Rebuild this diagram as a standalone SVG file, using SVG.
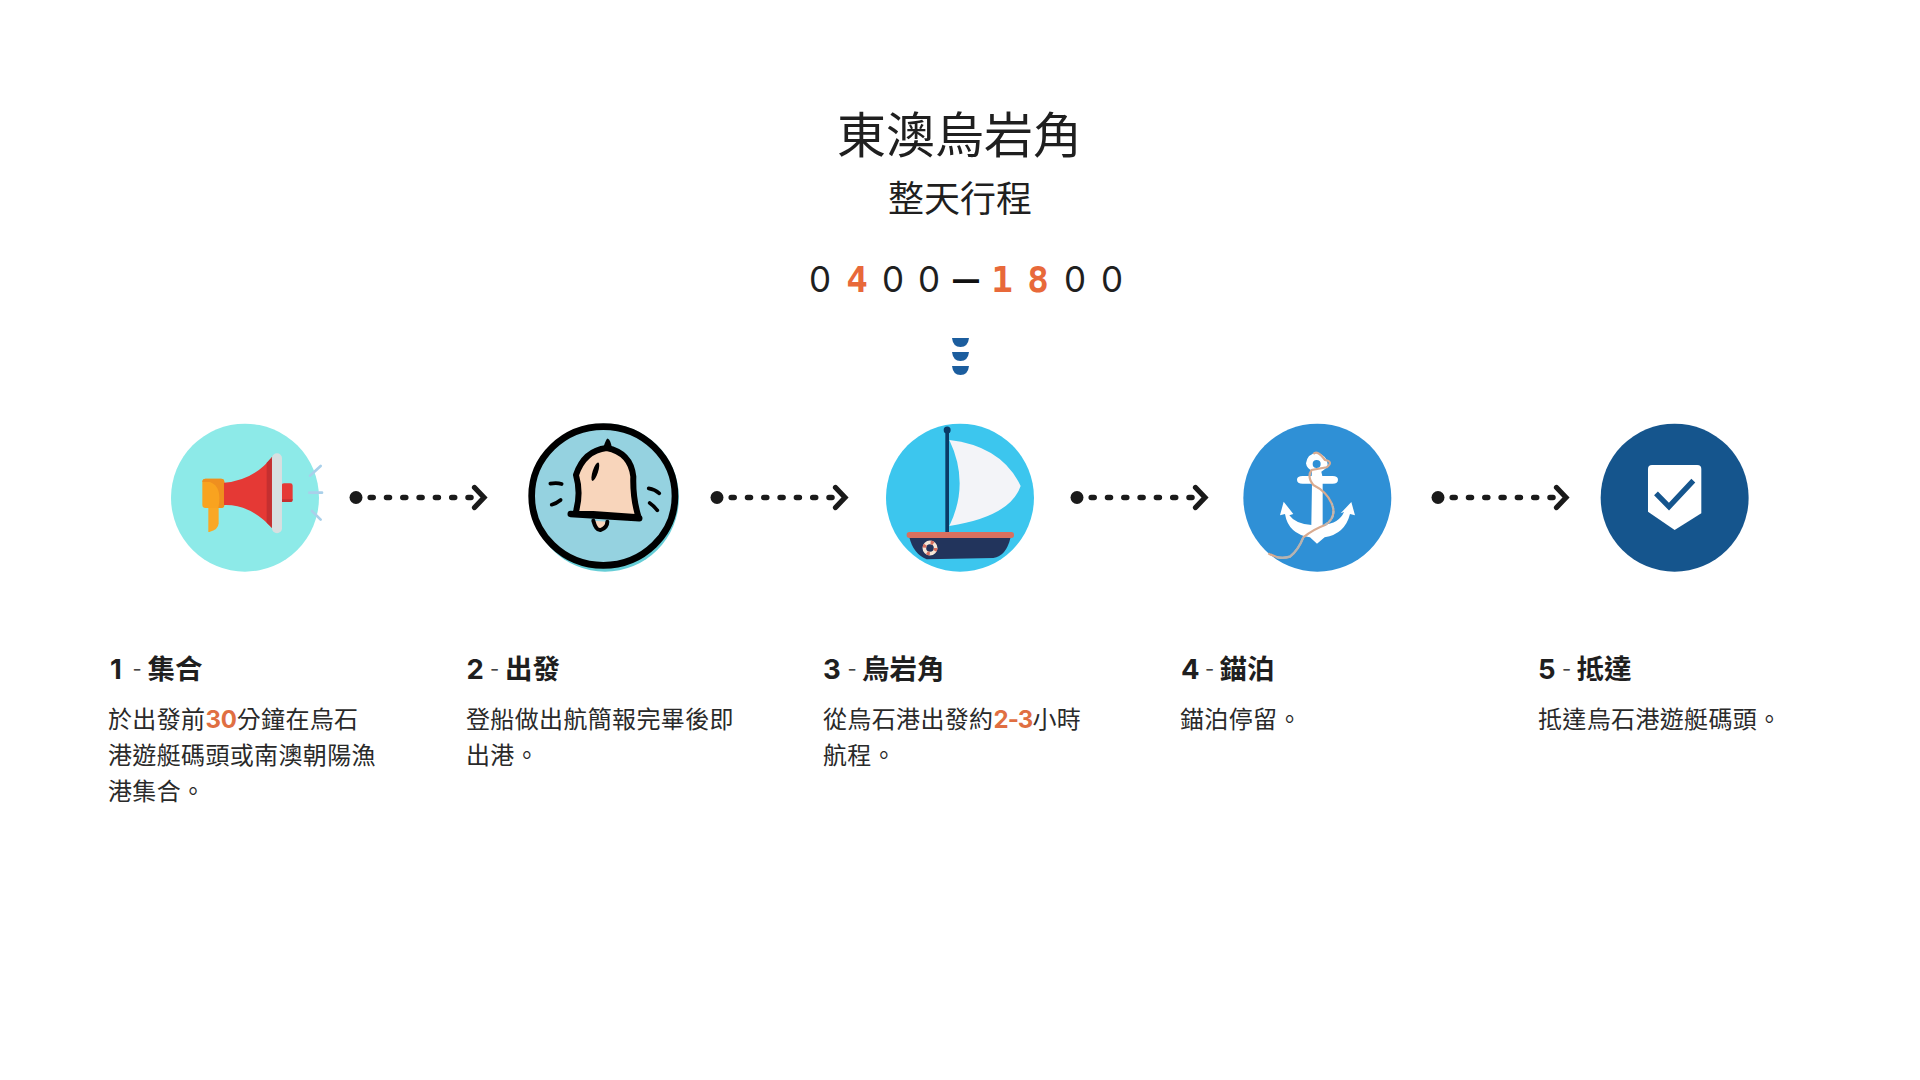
<svg xmlns="http://www.w3.org/2000/svg" width="1920" height="1080" viewBox="0 0 1920 1080">
<style>
text{font-family:"Inter","Noto Sans CJK TC","Noto Sans",sans-serif;fill:#1f1f1f}
.title{font-size:49px;text-anchor:middle}
.sub{font-size:36px;text-anchor:middle}
.time{font-size:35px;text-anchor:middle;font-weight:400}
.or{fill:#e8693a;font-weight:700}
.mono{font-family:"DejaVu Sans Mono",monospace;font-size:36px}
.bar{font-size:26px;font-weight:900;fill:#111}
.h{font-size:27.500px;font-weight:700}
.h .d{font-weight:400;fill:#444;font-size:20px}
.b{font-size:24px;letter-spacing:.35px;fill:#2a2a2a}
.b .or{fill:#e06f42;letter-spacing:-.2px}
.b .nar{letter-spacing:-.9px}
.dash{stroke:#1a1a1a;stroke-width:5.500;stroke-linecap:round;stroke-dasharray:3 13.300;stroke-dashoffset:-14.200;marker-start:url(#dot);marker-end:url(#chev);fill:none}
.ink{fill:none;stroke:#000;stroke-linecap:round;stroke-linejoin:round}
</style>
<defs>
<marker id="dot" markerUnits="userSpaceOnUse" markerWidth="16" markerHeight="16" refX="8" refY="8" orient="0"><circle cx="8" cy="8" r="6.500" fill="#1a1a1a"/></marker>
<marker id="chev" markerUnits="userSpaceOnUse" markerWidth="24" markerHeight="36" refX="14" refY="18" orient="0"><path d="M5.500,8 L15,18 L5.500,28" fill="none" stroke="#1a1a1a" stroke-width="5.200" stroke-linecap="round" stroke-linejoin="miter"/></marker>
</defs>
<rect width="1920" height="1080" fill="#fff"/>

<g id="header">
<text class="title" x="959.500" y="153">東澳烏岩角</text>
<text class="sub" x="960" y="212">整天行程</text>
<text class="time" y="292"><tspan x="820">0</tspan><tspan x="857" class="or mono">4</tspan><tspan x="893">0</tspan><tspan x="929">0</tspan><tspan x="966" dy="-3.500" class="bar">—</tspan><tspan x="1002" dy="3.500" class="or mono">1</tspan><tspan x="1038" class="or mono">8</tspan><tspan x="1075">0</tspan><tspan x="1112">0</tspan></text>
<g id="chevrons" fill="#1b5d9e">
<path d="M952,338H969Q968,347 960.500,347Q953,347 952,338Z"/>
<path d="M952,352H969Q968,361 960.500,361Q953,361 952,352Z"/>
<path d="M952,366H969Q968,375 960.500,375Q953,375 952,366Z"/>
</g>
</g>

<g id="connectors">
<line class="dash" x1="356" y1="497.500" x2="483" y2="497.500"/>
<line class="dash" x1="717" y1="497.500" x2="844" y2="497.500"/>
<line class="dash" x1="1077" y1="497.500" x2="1204" y2="497.500"/>
<line class="dash" x1="1438" y1="497.500" x2="1565" y2="497.500"/>
</g>

<g id="node1">
<g transform="translate(150,410) scale(.3333)">
<circle cx="285" cy="263" r="222" fill="#8deae8"/>
<path d="M175,290H206V340Q205,360 178,366H175Z" fill="#f9a825"/>
<rect x="157" y="206" width="66" height="88" rx="10" fill="#f9a31f"/>
<path d="M157,216Q157,206 167,206H213Q223,206 223,216V284Q223,294 213,294H205Q218,230 180,216Z" fill="#ef8f1f"/>
<path d="M222,218Q310,212 367,140V355Q300,282 222,285Z" fill="#e53935"/>
<path d="M350,158L367,140V355L350,338Z" fill="#c52f30"/>
<rect x="395" y="220" width="33" height="56" rx="7" fill="#e53935"/>
<path d="M396,268H428V269Q428,276 421,276H396Z" fill="#c52f30"/>
<rect x="366" y="130" width="30" height="240" rx="15" fill="#d8dfe0"/>
<g stroke="#a9d0ea" stroke-width="8" stroke-linecap="round">
<line x1="480" y1="197" x2="512" y2="168"/>
<line x1="478" y1="248" x2="516" y2="248"/>
<line x1="486" y1="303" x2="512" y2="329"/>
</g>
</g>
</g>

<g id="node2">
<g transform="translate(510,410) scale(.3333)">
<circle cx="285" cy="263" r="222" fill="#66cdd6"/>
<ellipse cx="280" cy="258" rx="215" ry="208" fill="#95d2e0" stroke="#000" stroke-width="20"/>
<path class="ink" d="M197,308Q214,250 198,195Q222,122 290,114Q362,128 370,200Q368,265 386,322Z" style="fill:#f8d5bb" stroke-width="18"/>
<path d="M280,112Q290,82 294,86Q302,90 306,115Z" fill="#000"/>
<path class="ink" d="M182,312L388,325" stroke-width="19"/>
<path class="ink" d="M250,332Q258,362 272,360Q292,352 292,335" style="fill:#f8d5bb" stroke-width="12"/>
<ellipse cx="256" cy="185" rx="8" ry="29" transform="rotate(18 256 185)" fill="#000"/>
<g class="ink" stroke-width="11">
<path d="M121,221Q140,217 155,222"/>
<path d="M125,284Q140,280 152,270"/>
<path d="M416,235Q435,238 448,250"/>
<path d="M419,279Q432,288 442,301"/>
</g>
</g>
</g>

<g id="node3">
<g transform="translate(870,410) scale(.3333)">
<circle cx="270" cy="263" r="222" fill="#3cc6ee"/>
<path d="M238,90Q395,108 452,228Q420,320 238,348Q300,220 238,90Z" fill="#f3f4f8"/>
<rect x="226" y="60" width="11" height="310" fill="#0b3b67"/>
<circle cx="231.500" cy="60" r="10.500" fill="#0b3b67"/>
<path d="M118,382H422Q408,440 370,444L170,448Q130,432 118,382Z" fill="#22345c"/>
<rect x="110" y="366" width="322" height="18" rx="8" fill="#d8705f"/>
<circle cx="180" cy="414" r="17" fill="#22345c" stroke="#f6e6d6" stroke-width="11"/>
<circle cx="180" cy="414" r="17" fill="none" stroke="#d8705f" stroke-width="11" stroke-dasharray="9 17.700"/>
</g>
</g>

<g id="node4">
<g transform="translate(1230,410) scale(.3333)">
<circle cx="262" cy="263" r="222" fill="#2f90d6"/>
<path fill-rule="evenodd" fill="#fff" d="M228,160Q232,130 262,128Q298,140 292,170Q285,178 274,185L277,198H308Q324,198 324,209Q324,221 308,221H278L278,345L244,345L246,221H218Q201,221 201,209Q201,198 218,198H245L246,182Q230,175 228,160ZM260,150A12,12 0 1 0 260,174A12,12 0 1 0 260,150Z"/>
<path fill="#fff" d="M161,275L190,312L178,316Q196,342 245,345L278,345Q328,340 342,306L332,310L364,276L375,316L360,312Q345,372 284,382L261,401L240,382Q175,372 165,312L150,316Z"/>
<path d="M115,430Q148,450 180,440Q205,420 220,382Q250,358 285,345Q322,322 305,280Q290,245 250,225Q230,200 245,180L290,172Q312,155 285,150Q262,118 250,132" fill="none" stroke="#d9ab90" stroke-width="6.500"/>
<path d="M140,442Q160,446 180,440Q205,420 220,382" fill="none" stroke="#b4b4b4" stroke-width="6.500"/>
<path d="M285,345Q322,322 305,280" fill="none" stroke="#b9b9b9" stroke-width="6.500" stroke-dasharray="10 4"/>
</g>
</g>

<g id="node5">
<g transform="translate(1500,410) scale(.3333)">
<circle cx="524" cy="263" r="222" fill="#15558d"/>
<path d="M456,165H592Q604,165 604,177V310L524,360L444,305V177Q444,165 456,165Z" fill="#fff"/>
<path d="M468,250L507,290L580,212" fill="none" stroke="#15558d" stroke-width="16"/>
</g>
</g>

<g id="label1">
<text class="h" y="679"><tspan x="110">1</tspan><tspan x="132.500" dy="-3" class="d">-</tspan><tspan x="147.500" dy="3">集合</tspan></text>
<text class="b"><tspan x="108" y="728">於出發前<tspan class="or">30</tspan>分鐘在烏石</tspan><tspan x="108" y="763.500">港遊艇碼頭或南澳朝陽漁</tspan><tspan x="108" y="800">港集合。</tspan></text>
</g>
<g id="label2">
<text class="h" y="679"><tspan x="466.500">2</tspan><tspan x="490" dy="-3" class="d">-</tspan><tspan x="505" dy="3">出發</tspan></text>
<text class="b"><tspan x="466" y="728">登船做出航簡報完畢後即</tspan><tspan x="466" y="763.500">出港。</tspan></text>
</g>
<g id="label3">
<text class="h" y="679"><tspan x="823">3</tspan><tspan x="847.500" dy="-3" class="d">-</tspan><tspan x="862" dy="3">烏岩角</tspan></text>
<text class="b"><tspan x="823" y="728">從烏石港出發約<tspan class="or nar">2-3</tspan>小時</tspan><tspan x="823" y="763.500">航程。</tspan></text>
</g>
<g id="label4">
<text class="h" y="679"><tspan x="1181">4</tspan><tspan x="1205" dy="-3" class="d">-</tspan><tspan x="1219.500" dy="3">錨泊</tspan></text>
<text class="b"><tspan x="1180" y="728">錨泊停留。</tspan></text>
</g>
<g id="label5">
<text class="h" y="679"><tspan x="1538">5</tspan><tspan x="1562" dy="-3" class="d">-</tspan><tspan x="1576.500" dy="3">抵達</tspan></text>
<text class="b"><tspan x="1538" y="728">抵達烏石港遊艇碼頭。</tspan></text>
</g>
</svg>
